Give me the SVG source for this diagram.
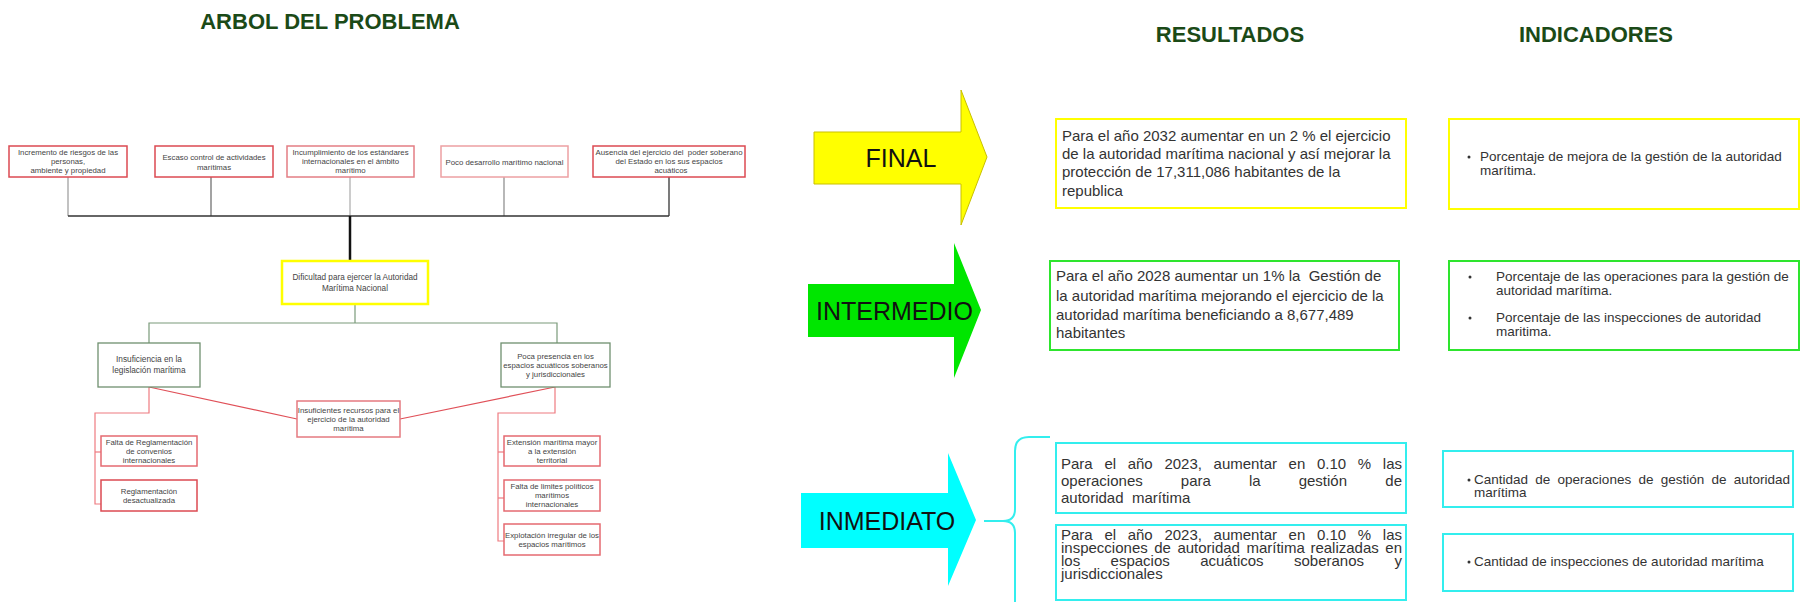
<svg xmlns="http://www.w3.org/2000/svg" width="1800" height="602" viewBox="0 0 1800 602">
<style>
.title{font-family:"Liberation Sans",Arial,sans-serif;font-weight:bold;font-size:22px;fill:#1b4a17;text-anchor:middle}
.t{font-family:"Liberation Sans",Arial,sans-serif;font-size:7.8px;fill:#444;text-anchor:middle}
.rb{fill:#fff;stroke:#dc4a52;stroke-width:1.5}
.gb{fill:#fff;stroke:#6f906f;stroke-width:1.3}
.yb{fill:#fff;stroke:#ffff00;stroke-width:2.5}
.big{font-family:"Liberation Sans",Arial,sans-serif;font-size:25px;fill:#111;text-anchor:middle}
.r{font-family:"Liberation Sans",Arial,sans-serif;font-size:15px;fill:#333;white-space:pre}
.i{font-family:"Liberation Sans",Arial,sans-serif;font-size:13.5px;fill:#333;white-space:pre}
.by{fill:#fff;stroke:#ffff00;stroke-width:2}
.bg{fill:#fff;stroke:#2ee52e;stroke-width:2}
.bc{fill:#fff;stroke:#33eeee;stroke-width:2}
.dot{fill:#333}
</style>

<text class="title" x="330" y="29">ARBOL DEL PROBLEMA</text>
<text class="title" x="1230" y="42">RESULTADOS</text>
<text class="title" x="1596" y="42">INDICADORES</text>

<g id="connectors" fill="none">
  <line x1="68" y1="177" x2="68" y2="216" stroke="#999" stroke-width="1.2"/>
  <line x1="211" y1="177" x2="211" y2="216" stroke="#666" stroke-width="1.2"/>
  <line x1="350" y1="177" x2="350" y2="216" stroke="#aaa" stroke-width="1.2"/>
  <line x1="504" y1="177" x2="504" y2="216" stroke="#888" stroke-width="1.2"/>
  <line x1="669" y1="177" x2="669" y2="216" stroke="#222" stroke-width="1.2"/>
  <line x1="68" y1="216" x2="669" y2="216" stroke="#333" stroke-width="1.3"/>
  <line x1="350" y1="216" x2="350" y2="261" stroke="#111" stroke-width="2.5"/>
  <polyline points="355,304 355,323" stroke="#7a9a7a" stroke-width="1.2"/>
  <polyline points="149,343 149,323 557,323 557,343" stroke="#7a9a7a" stroke-width="1.2"/>
  <line x1="149" y1="387" x2="297" y2="419" stroke="#e05058" stroke-width="1.2"/>
  <line x1="555" y1="387" x2="400" y2="419" stroke="#e05058" stroke-width="1.2"/>
  <polyline points="149,387 149,413 95,413 95,504 101,504" stroke="#ee7b80" stroke-width="1.2"/>
  <line x1="95" y1="452" x2="101" y2="452" stroke="#ee7b80" stroke-width="1.2"/>
  <polyline points="555,387 555,413 498,413 498,541 504,541" stroke="#ee7b80" stroke-width="1.2"/>
  <line x1="498" y1="452" x2="504" y2="452" stroke="#ee7b80" stroke-width="1.2"/>
  <line x1="498" y1="498" x2="504" y2="498" stroke="#ee7b80" stroke-width="1.2"/>
  <path d="M1050,437 L1029,437 Q1015,437 1015,451 L1015,509 Q1015,521 1003,521 L984,521 M1003,521 Q1015,521 1015,533 L1015,606" stroke="#33eeee" stroke-width="2"/>
</g>

<g id="c1"><rect class="rb" x="9" y="146" width="118" height="31"/>
<text class="t" x="68" y="155">Incremento de riesgos de las</text><text class="t" x="68" y="164">personas,</text><text class="t" x="68" y="173">ambiente y propiedad</text></g>
<g id="c2"><rect class="rb" x="155" y="146" width="118" height="31"/>
<text class="t" x="214" y="159.5">Escaso control de actividades</text><text class="t" x="214" y="169.5">marítimas</text></g>
<g id="c3"><rect class="rb" x="287" y="146" width="127" height="31" style="stroke:#e37e84"/>
<text class="t" x="350.5" y="155">Incumplimiento de los estándares</text><text class="t" x="350.5" y="164">internacionales en el ámbito</text><text class="t" x="350.5" y="173">marítimo</text></g>
<g id="c4"><rect class="rb" x="441" y="146" width="127" height="31" style="stroke:#eda0a3"/>
<text class="t" x="504.5" y="164.5">Poco desarrollo marítimo nacional</text></g>
<g id="c5"><rect class="rb" x="593" y="146" width="152" height="31"/>
<text class="t" x="669" y="155" style="white-space:pre">Ausencia del ejercicio del  poder soberano</text><text class="t" x="669" y="164">del Estado en los sus espacios</text><text class="t" x="671" y="173">acuáticos</text></g>

<g id="problem"><rect class="yb" x="282" y="261" width="146" height="43"/>
<text class="t" x="355" y="280" style="font-size:8.2px">Dificultad para ejercer la Autoridad</text><text class="t" x="355" y="291" style="font-size:8.2px">Marítima Nacional</text></g>

<g id="e1"><rect class="gb" x="98" y="343" width="102" height="44"/>
<text class="t" x="149" y="362" style="font-size:8.3px">Insuficiencia en la</text><text class="t" x="149" y="373" style="font-size:8.3px">legislación marítima</text></g>
<g id="e2"><rect class="gb" x="501" y="343" width="109" height="44"/>
<text class="t" x="555.5" y="358.5">Poca presencia en los</text><text class="t" x="555.5" y="368">espacios acuáticos soberanos</text><text class="t" x="555.5" y="377">y jurisdiccionales</text></g>

<g id="m1"><rect class="rb" x="297" y="401" width="103" height="36" style="stroke:#e57a80"/>
<text class="t" x="348.5" y="413">Insuficientes recursos para el</text><text class="t" x="348.5" y="422">ejercicio de la autoridad</text><text class="t" x="348.5" y="431">marítima</text></g>

<g id="l1"><rect class="rb" x="101" y="436" width="96" height="30" style="stroke:#e56a70"/>
<text class="t" x="149" y="445">Falta de Reglamentación</text><text class="t" x="149" y="454">de convenios</text><text class="t" x="149" y="463">internacionales</text></g>
<g id="l2"><rect class="rb" x="101" y="480" width="96" height="31"/>
<text class="t" x="149" y="494">Reglamentación</text><text class="t" x="149" y="503">desactualizada</text></g>
<g id="r1"><rect class="rb" x="504" y="436" width="96" height="30" style="stroke:#e56a70"/>
<text class="t" x="552" y="445">Extensión marítima mayor</text><text class="t" x="552" y="454">a la extensión</text><text class="t" x="552" y="463">territorial</text></g>
<g id="r2"><rect class="rb" x="504" y="480" width="96" height="31" style="stroke:#e56a70"/>
<text class="t" x="552" y="489">Falta de limites políticos</text><text class="t" x="552" y="498">marítimos</text><text class="t" x="552" y="507">internacionales</text></g>
<g id="r3"><rect class="rb" x="504" y="524" width="96" height="31" style="stroke:#e56a70"/>
<text class="t" x="552" y="538">Explotación irregular de los</text><text class="t" x="552" y="547">espacios marítimos</text></g>

<g id="arrow-final"><polygon points="814,132 961,132 961,90 987,157 961,225 961,184 814,184" fill="#ffff00" stroke="#c9c000" stroke-width="1"/>
<text class="big" x="901" y="167">FINAL</text></g>
<g id="arrow-intermedio"><polygon points="808,284 954,284 954,243 981,310 954,378 954,337 808,337" fill="#00e600"/>
<text class="big" x="894.5" y="320">INTERMEDIO</text></g>
<g id="arrow-inmediato"><polygon points="801,493 948,493 948,453 976,520 948,586 948,548 801,548" fill="#00ffff"/>
<text class="big" x="887" y="530">INMEDIATO</text></g>

<g id="res-final"><rect class="by" x="1056" y="119" width="350" height="89"/>
<text class="r" x="1062" y="141">Para el año 2032 aumentar en un 2 % el ejercicio</text>
<text class="r" x="1062" y="159">de la autoridad marítima nacional y así mejorar la</text>
<text class="r" x="1062" y="177">protección de 17,311,086 habitantes de la</text>
<text class="r" x="1062" y="196">republica</text></g>

<g id="res-intermedio"><rect class="bg" x="1050" y="261" width="349" height="89"/>
<text class="r" x="1056" y="281">Para el año 2028 aumentar un 1% la  Gestión de</text>
<text class="r" x="1056" y="301">la autoridad marítima mejorando el ejercicio de la</text>
<text class="r" x="1056" y="320">autoridad marítima beneficiando a 8,677,489</text>
<text class="r" x="1056" y="338">habitantes</text></g>

<g id="res-inmediato-1"><rect class="bc" x="1056" y="443" width="350" height="70"/>
<text class="r" y="469"><tspan x="1061">Para</tspan><tspan x="1104.4">el</tspan><tspan x="1127.7">año</tspan><tspan x="1164.4">2023,</tspan><tspan x="1213.6">aumentar</tspan><tspan x="1288.6">en</tspan><tspan x="1317">0.10</tspan><tspan x="1357.8">%</tspan><tspan x="1382.8">las</tspan></text>
<text class="r" y="486"><tspan x="1061">operaciones</tspan><tspan x="1180.8">para</tspan><tspan x="1248.9">la</tspan><tspan x="1298.7">gestión</tspan><tspan x="1385.3">de</tspan></text>
<text class="r" x="1061" y="503">autoridad  marítima</text></g>

<g id="res-inmediato-2"><rect class="bc" x="1056" y="525" width="350" height="75"/>
<text class="r" y="540"><tspan x="1061">Para</tspan><tspan x="1104.4">el</tspan><tspan x="1127.7">año</tspan><tspan x="1164.4">2023,</tspan><tspan x="1213.6">aumentar</tspan><tspan x="1288.6">en</tspan><tspan x="1317">0.10</tspan><tspan x="1357.8">%</tspan><tspan x="1382.8">las</tspan></text>
<text class="r" y="553"><tspan x="1061">inspecciones</tspan><tspan x="1154.2">de</tspan><tspan x="1177.4">autoridad</tspan><tspan x="1246.4">marítima</tspan><tspan x="1310.4">realizadas</tspan><tspan x="1385.3">en</tspan></text>
<text class="r" y="566"><tspan x="1061">los</tspan><tspan x="1110.6">espacios</tspan><tspan x="1200.2">acuáticos</tspan><tspan x="1294">soberanos</tspan><tspan x="1394.5">y</tspan></text>
<text class="r" x="1061" y="579">jurisdiccionales</text></g>

<g id="ind-final"><rect class="by" x="1449" y="119" width="350" height="90"/>
<circle class="dot" cx="1469" cy="157" r="1.5"/>
<text class="i" x="1480" y="161">Porcentaje de mejora de la gestión de la autoridad</text>
<text class="i" x="1480" y="175">marítima.</text></g>

<g id="ind-intermedio"><rect class="bg" x="1449" y="261" width="350" height="89"/>
<circle class="dot" cx="1470" cy="277" r="1.5"/>
<text class="i" x="1496" y="281">Porcentaje de las operaciones para la gestión de</text>
<text class="i" x="1496" y="295">autoridad marítima.</text>
<circle class="dot" cx="1470" cy="318" r="1.5"/>
<text class="i" x="1496" y="322">Porcentaje de las inspecciones de autoridad</text>
<text class="i" x="1496" y="336">maritima.</text></g>

<g id="ind-inmediato-1"><rect class="bc" x="1443" y="451" width="350" height="56"/>
<circle class="dot" cx="1469" cy="480" r="1.5"/>
<text class="i" y="484"><tspan x="1474">Cantidad</tspan><tspan x="1535.3">de</tspan><tspan x="1557.6">operaciones</tspan><tspan x="1638.4">de</tspan><tspan x="1660.7">gestión</tspan><tspan x="1711.5">de</tspan><tspan x="1733.7">autoridad</tspan></text>
<text class="i" x="1474" y="497">marítima</text></g>

<g id="ind-inmediato-2"><rect class="bc" x="1443" y="534" width="350" height="57"/>
<circle class="dot" cx="1469" cy="562" r="1.5"/>
<text class="i" x="1474" y="566">Cantidad de inspecciones de autoridad marítima</text></g>
</svg>
